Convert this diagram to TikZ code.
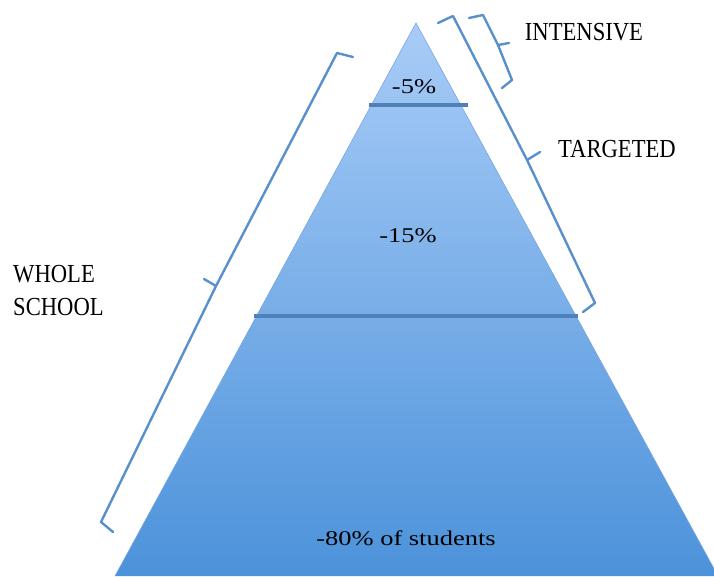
\documentclass[tikz,border=0pt]{standalone}
\usepackage{fontspec}
\setmainfont{Liberation Serif}
\newfontfamily\pctfont[FakeStretch=1.26]{Liberation Serif}
\newfontfamily\tierfont[FakeStretch=0.87]{Liberation Serif}
\usepackage{tikz}

\definecolor{pyrtop}{RGB}{168,204,247}
\definecolor{pyrbottom}{RGB}{76,146,218}
\definecolor{pyredge}{RGB}{120,166,224}
\definecolor{divline}{RGB}{80,128,186}
\definecolor{bracket}{RGB}{88,144,204}

\tikzset{
  pct/.style={font=\pctfont\fontsize{21}{25}\selectfont, anchor=base, inner sep=0pt},
  tier/.style={font=\tierfont\fontsize{26}{33}\selectfont, inner sep=0pt},
  brack/.style={draw=bracket, line width=2.4pt, line join=round, line cap=round},
  divider/.style={draw=divline, line width=3.6pt}
}

\begin{document}
\begin{tikzpicture}[x=1pt,y=-1pt]
        \useasboundingbox (0,0) rectangle (714,576);
        \clip (0,0) rectangle (714,576);
        % pyramid
        \coordinate (apex) at (416,23);
        \coordinate (bl) at (115,576);
        \coordinate (br) at (718,576);
        \shade [top color=pyrtop, bottom color=pyrbottom] (apex)--(bl)--(br)--cycle;
        \draw [pyredge, line width=0.6pt] (bl)--(apex)--(br);
        \draw [divider] (369,105)--(468,105);
        \draw [divider] (254,316)--(578,316);
        \node [pct] (p5) at (414,93) {-5\%};
        \node [pct] (p15) at (408,242) {-15\%};
        \node [pct] (p80) at (406,545) {-80\% of students};

        % brackets
        \draw [brack] (353,57)--(337,53)--(216,286)--(101,522)--(113,532);
        \draw [brack] (216,286)--(204,279);
        \draw [brack] (438,23)--(453,16)--(527,160)--(595,303)--(583,312);
        \draw [brack] (527,160)--(540,152);
        \draw [brack] (469,18)--(483,15)--(498,45)--(512,80)--(502,88);
        \draw [brack] (498,45)--(509,43);

        % labels
        \node [tier, anchor=base] (intensive) at (584,40) {INTENSIVE};
        \node [tier, anchor=base] (targeted) at (617,157) {TARGETED};
        \node [tier, anchor=base west, align=left] (whole) at (13,315) {WHOLE\\SCHOOL};
\end{tikzpicture}
\end{document}
